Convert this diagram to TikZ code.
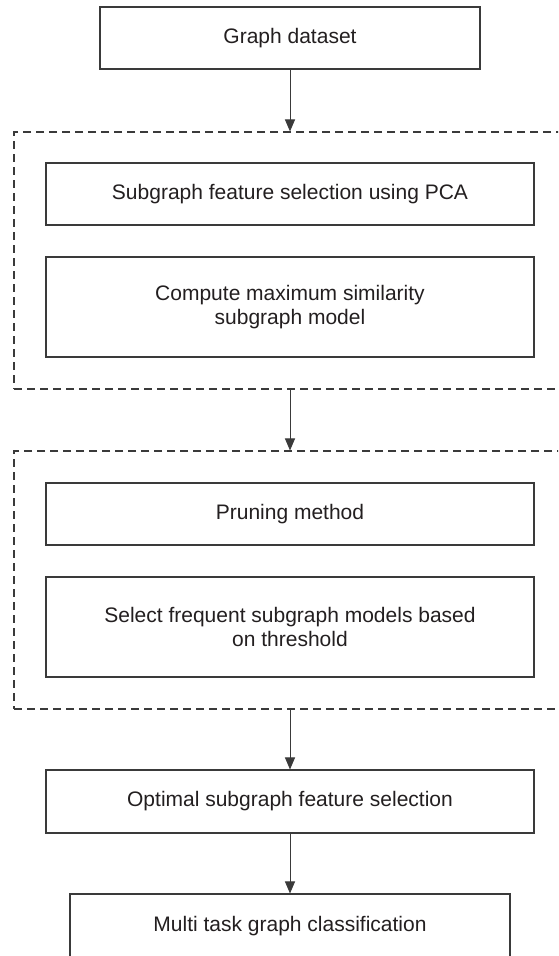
\documentclass[tikz,border=0pt]{standalone}
\usepackage{fontspec}
\setmainfont{Liberation Sans}
\usetikzlibrary{arrows.meta}
\definecolor{ln}{HTML}{3A3A3A}
\definecolor{tx}{HTML}{231F20}
\begin{document}
\begin{tikzpicture}[x=1pt,y=-1pt,
  box/.style={draw=ln, line width=1.1pt, text=tx, font=\fontsize{21}{24}\selectfont, align=center, inner sep=0pt, minimum width=488pt},
  dbox/.style={draw=ln, line width=1.1pt, dash pattern=on 8pt off 5pt, inner sep=0pt},
  arr/.style={draw=ln, line width=1pt, -{Triangle[width=10pt,length=12pt]}}]
\useasboundingbox (0,0) rectangle (558,956);
\clip (0,0) rectangle (558,956);
\fill[white] (0,0) rectangle (558,956);
% top box
\node[box, minimum width=380pt, minimum height=62pt] (gd) at (290,38) {Graph dataset};
% dashed group 1
\node[dbox, minimum width=556pt, minimum height=257pt] (d1) at (292,260.5) {};
\node[box, minimum height=62pt] (b1) at (290,194) {Subgraph feature selection using PCA};
\node[box, minimum height=100pt] (b2) at (290,307) {Compute maximum similarity\\subgraph model};
% dashed group 2
\node[dbox, minimum width=556pt, minimum height=258pt] (d2) at (292,580) {};
\node[box, minimum height=62pt] (b3) at (290,514) {Pruning method};
\node[box, minimum height=100pt] (b4) at (290,627) {Select frequent subgraph models based\\on threshold};
% lower boxes
\node[box, minimum height=63pt] (opt) at (290,801.5) {Optimal subgraph feature selection};
\node[box, minimum width=440pt, minimum height=64pt] (mt) at (290,926) {Multi task graph classification};
% connectors
\draw[arr] (gd.south) -- (gd.south |- d1.north);
\draw[arr] (gd.south |- d1.south) -- (gd.south |- d2.north);
\draw[arr] (gd.south |- d2.south) -- (opt.north);
\draw[arr] (opt.south) -- (mt.north);
\end{tikzpicture}
\end{document}
